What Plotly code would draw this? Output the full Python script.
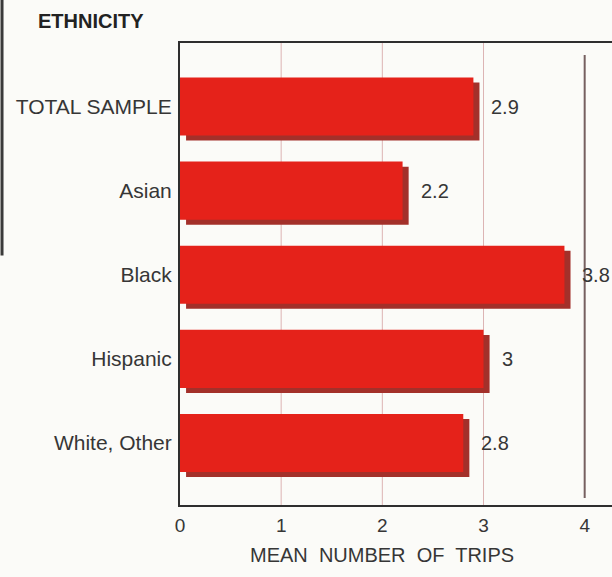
import plotly.graph_objects as go

# ---- data ----
categories = ["TOTAL SAMPLE", "Asian", "Black", "Hispanic", "White, Other"]
mean_trips = [2.9, 2.2, 3.8, 3.0, 2.8]
value_labels = ["2.9", "2.2", "3.8", "3", "2.8"]
x_ticks = [0, 1, 2, 3, 4]
x_tick_labels = ["0", "1", "2", "3", "4"]
chart_title = "ETHNICITY"
x_title = "MEAN\u00a0 NUMBER\u00a0 OF\u00a0 TRIPS"

# ---- styles ----
FONT = "Liberation Sans, Arial, Helvetica, sans-serif"
TXT = "#363636"
RED = "#e5221a"
SHADOW = "#a3302a"
BG = "#fbfbf8"
BAR_W = 0.69
SH_DX = 0.06   # shadow offset along value axis (data units)
SH_DY = 0.06   # shadow offset along category axis

pos = list(range(len(categories)))

fig = go.Figure()
# shadow bars
fig.add_trace(go.Bar(
    y=[p + SH_DY for p in pos], x=mean_trips, base=SH_DX, orientation="h",
    width=BAR_W, marker=dict(color=SHADOW, line=dict(width=0)),
    hoverinfo="skip", showlegend=False))
# main bars
fig.add_trace(go.Bar(
    y=pos, x=mean_trips, orientation="h", width=BAR_W,
    marker=dict(color=RED, line=dict(width=0)),
    showlegend=False))

# value labels
for p, v, lab in zip(pos, mean_trips, value_labels):
    fig.add_annotation(x=v, y=p, xref="x", yref="y", text=lab, showarrow=False,
                       xanchor="left", yanchor="middle", xshift=16,
                       font=dict(family=FONT, size=20, color=TXT))

# gridlines
shapes = []
for t in x_ticks[1:-1]:
    shapes.append(dict(type="line", xref="x", yref="paper", x0=t, x1=t, y0=0, y1=1,
                       line=dict(color="#dcb4b4", width=1), layer="below"))
shapes.append(dict(type="line", xref="x", yref="paper", x0=x_ticks[-1], x1=x_ticks[-1],
                   y0=0.015, y1=0.974, line=dict(color="#766060", width=2), layer="below"))
# scan edge line at far left
shapes.append(dict(type="line", xref="paper", yref="paper", x0=-0.412, x1=-0.412,
                   y0=0.54, y1=1.1, line=dict(color="#3a3a3a", width=3)))

fig.add_annotation(x=(x_ticks[0] + x_ticks[-1]) / 2, y=-0.108, xref="x", yref="paper",
                   text=x_title, showarrow=False, xanchor="center", yanchor="middle",
                   font=dict(family=FONT, size=20, color=TXT))
fig.add_annotation(x=-0.333, y=1.047, xref="paper", yref="paper", text="<b>" + chart_title + "</b>",
                   showarrow=False, xanchor="left", yanchor="middle",
                   font=dict(family=FONT, size=20, color="#222"))

fig.update_layout(
    width=612, height=577,
    margin=dict(l=180, r=0, t=43, b=72),
    paper_bgcolor=BG, plot_bgcolor=BG,
    barmode="overlay",
    shapes=shapes,
    xaxis=dict(range=[0, 4.27], tickvals=x_ticks, ticktext=x_tick_labels,
               showgrid=False, zeroline=False, showline=True, mirror=True,
               linecolor="#2e2e2e", linewidth=2, ticks="outside", ticklen=2,
               tickcolor="rgba(0,0,0,0)",
               tickfont=dict(family=FONT, size=19, color=TXT)),
    yaxis=dict(range=[4.737, -0.755], tickvals=pos, ticktext=categories,
               showgrid=False, zeroline=False, showline=True, mirror=False,
               linecolor="#2e2e2e", linewidth=2, ticks="outside", ticklen=2,
               tickcolor="rgba(0,0,0,0)",
               tickfont=dict(family=FONT, size=21, color=TXT)),
)

fig.write_html("out.html")
